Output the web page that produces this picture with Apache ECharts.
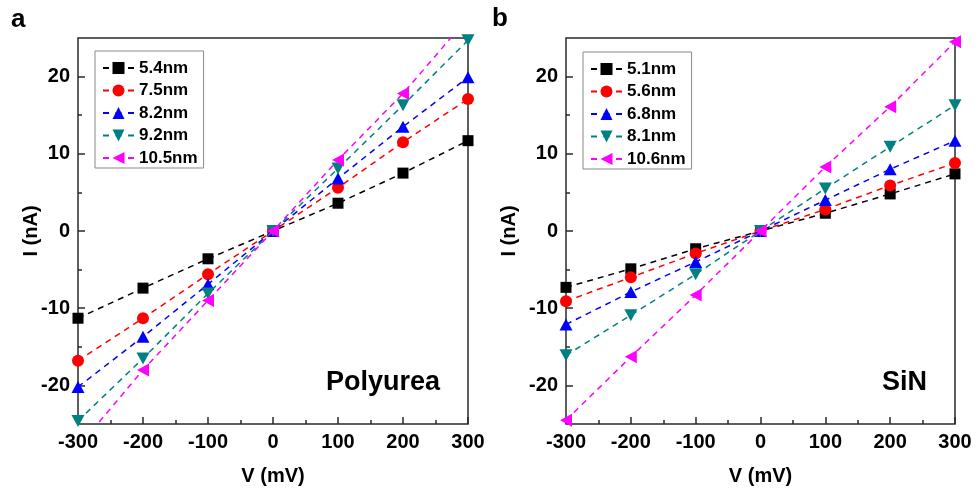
<!DOCTYPE html>
<html>
<head>
<meta charset="utf-8">
<script src="https://cdn.jsdelivr.net/npm/echarts@6/dist/echarts.min.js"></script>
<style>
  html, body { margin: 0; padding: 0; background: #fff; }
  #chart { width: 978px; height: 492px; }
</style>
</head>
<body>
<div id="chart"></div>
<script>
// Bias voltage steps (mV)
const voltage = [-300, -200, -100, 0, 100, 200, 300];

// Panel a: polyurea barrier, current (nA) for each thickness
const polyureaNames = ['5.4nm', '7.5nm', '8.2nm', '9.2nm', '10.5nm'];
const polyurea54  = [-11.3, -7.4, -3.6, 0, 3.6, 7.5, 11.7];
const polyurea75  = [-16.8, -11.3, -5.6, 0, 5.6, 11.5, 17.1];
const polyurea82  = [-20.2, -13.7, -6.9, 0, 6.8, 13.5, 19.9];
const polyurea92  = [-24.6, -16.5, -8.1, 0, 8.1, 16.3, 24.7];
const polyurea105 = [-28.0, -18.0, -9.0, 0, 9.2, 17.8, 27.6];

// Panel b: SiN barrier, current (nA) for each thickness
const sinNames = ['5.1nm', '5.6nm', '6.8nm', '8.1nm', '10.6nm'];
const sin51  = [-7.3, -4.9, -2.3, 0, 2.3, 4.8, 7.4];
const sin56  = [-9.1, -6.0, -2.9, 0, 2.8, 5.9, 8.8];
const sin68  = [-12.1, -7.9, -4.0, 0, 4.0, 8.0, 11.7];
const sin81  = [-16.1, -10.9, -5.6, 0, 5.5, 10.9, 16.3];
const sin106 = [-24.5, -16.3, -8.3, 0, 8.3, 16.1, 24.5];

// Axis ranges
const vRange = [-300, 300];
const iRange = [-25, 25];
const iLabelRange = [-20, 20];

// Styling per series slot
const colors  = ['#000000', '#ff0000', '#0000ff', '#008080', '#ff00ff'];
const symbols = ['rect', 'circle', 'triangle', 'triangle', 'triangle'];
const rotates = [0, 0, 0, 180, 90];
const sizes   = [11, 12, [13, 12], [13, 12], [13, 12]];

const FONT = '"Liberation Sans", Arial, Helvetica, sans-serif';
const FRAME = '#2a2a2a';

const chart = echarts.init(document.getElementById('chart'), null, { renderer: 'canvas' });

// plot rectangles
const panelA = { left: 78, top: 38, width: 390, height: 386 };
const panelB = { left: 566, top: 38, width: 389, height: 386 };
const pxPerUnit = panelA.height / (iRange[1] - iRange[0]);
function labelGrid(p) {
  // sub-rectangle spanning only the labelled current range
  const inset = (iLabelRange[0] - iRange[0]) * pxPerUnit;
  return { left: p.left, top: p.top + inset, width: p.width, height: p.height - 2 * inset };
}

function xAxisFor(gridIndex, visible) {
  return {
    type: 'value', gridIndex, min: vRange[0], max: vRange[1], interval: 100,
    show: visible,
    name: 'V (mV)', nameLocation: 'middle', nameGap: 42,
    nameTextStyle: { fontFamily: FONT, fontWeight: 'bold', fontSize: 20, color: '#000' },
    axisLine: { show: false, onZero: false },
    axisTick: { show: true, inside: true, length: 7, lineStyle: { color: FRAME, width: 1.5 } },
    minorTick: { show: true, splitNumber: 2, length: 4, lineStyle: { color: FRAME, width: 1.5 } },
    axisLabel: { fontFamily: FONT, fontWeight: 'bold', fontSize: 20, color: '#000', margin: 8 },
    splitLine: { show: false }
  };
}

function yDataAxis(gridIndex, gap) {
  return {
    type: 'value', gridIndex, min: iRange[0], max: iRange[1],
    name: 'I (nA)', nameLocation: 'middle', nameGap: gap, nameRotate: 90,
    nameTextStyle: { fontFamily: FONT, fontWeight: 'bold', fontSize: 20, color: '#000' },
    axisLine: { show: false, onZero: false },
    axisTick: { show: false },
    axisLabel: { show: false },
    splitLine: { show: false }
  };
}

function yLabelAxis(gridIndex) {
  return {
    type: 'value', gridIndex, min: iLabelRange[0], max: iLabelRange[1], interval: 10,
    axisLine: { show: false, onZero: false },
    axisTick: { show: true, inside: true, length: 7, lineStyle: { color: FRAME, width: 1.5 } },
    minorTick: { show: true, splitNumber: 2, length: 4, lineStyle: { color: FRAME, width: 1.5 } },
    axisLabel: { fontFamily: FONT, fontWeight: 'bold', fontSize: 20, color: '#000', margin: 8 },
    splitLine: { show: false }
  };
}

function makeSeries(names, arrays, axisIndex) {
  return names.map((name, k) => ({
    name,
    type: 'line',
    xAxisIndex: axisIndex,
    yAxisIndex: axisIndex,
    data: voltage.map((v, i) => [v, arrays[k][i]]),
    symbol: symbols[k],
    symbolRotate: rotates[k],
    symbolSize: sizes[k],
    showAllSymbol: true,
    clip: true,
    z: 3 + k,
    lineStyle: { color: colors[k], width: 1.5, type: [6, 5] },
    itemStyle: { color: colors[k] },
    emphasis: { disabled: true },
    animation: false
  }));
}

function legendFor(names, left, top) {
  return {
    data: names, orient: 'vertical', left, top,
    padding: [8, 6, 1, 7],
    backgroundColor: '#fff',
    borderColor: '#888', borderWidth: 1,
    itemWidth: 31, itemHeight: 15, itemGap: 4.5,
    selectedMode: false,
    lineStyle: { type: [6, 6.5] },
    textStyle: { fontFamily: FONT, fontWeight: 'bold', fontSize: 17, color: '#000', lineHeight: 18 }
  };
}

const option = {
  backgroundColor: '#fff',
  animation: false,
  grid: [
    Object.assign({ show: true, borderColor: FRAME, borderWidth: 1.5, backgroundColor: 'transparent' }, panelA),
    Object.assign({ show: true, borderColor: FRAME, borderWidth: 1.5, backgroundColor: 'transparent' }, panelB),
    labelGrid(panelA),
    labelGrid(panelB)
  ],
  xAxis: [xAxisFor(0, true), xAxisFor(1, true), xAxisFor(2, false), xAxisFor(3, false)],
  yAxis: [yDataAxis(0, 37), yDataAxis(1, 47), yLabelAxis(2), yLabelAxis(3)],
  legend: [legendFor(polyureaNames, 95, 51), legendFor(sinNames, 583, 52)],
  series: [
    ...makeSeries(polyureaNames, [polyurea54, polyurea75, polyurea82, polyurea92, polyurea105], 0),
    ...makeSeries(sinNames, [sin51, sin56, sin68, sin81, sin106], 1)
  ],
  graphic: [
    { type: 'text', left: 11, top: 7, style: { text: 'a', font: 'bold 26px ' + FONT, fill: '#000' } },
    { type: 'text', left: 492, top: 6, style: { text: 'b', font: 'bold 26px ' + FONT, fill: '#000' } },
    { type: 'text', left: 326, top: 369, style: { text: 'Polyurea', font: 'bold 27px ' + FONT, fill: '#000' } },
    { type: 'text', left: 882, top: 369, style: { text: 'SiN', font: 'bold 27px ' + FONT, fill: '#000' } }
  ]
};

chart.setOption(option);
</script>
</body>
</html>
